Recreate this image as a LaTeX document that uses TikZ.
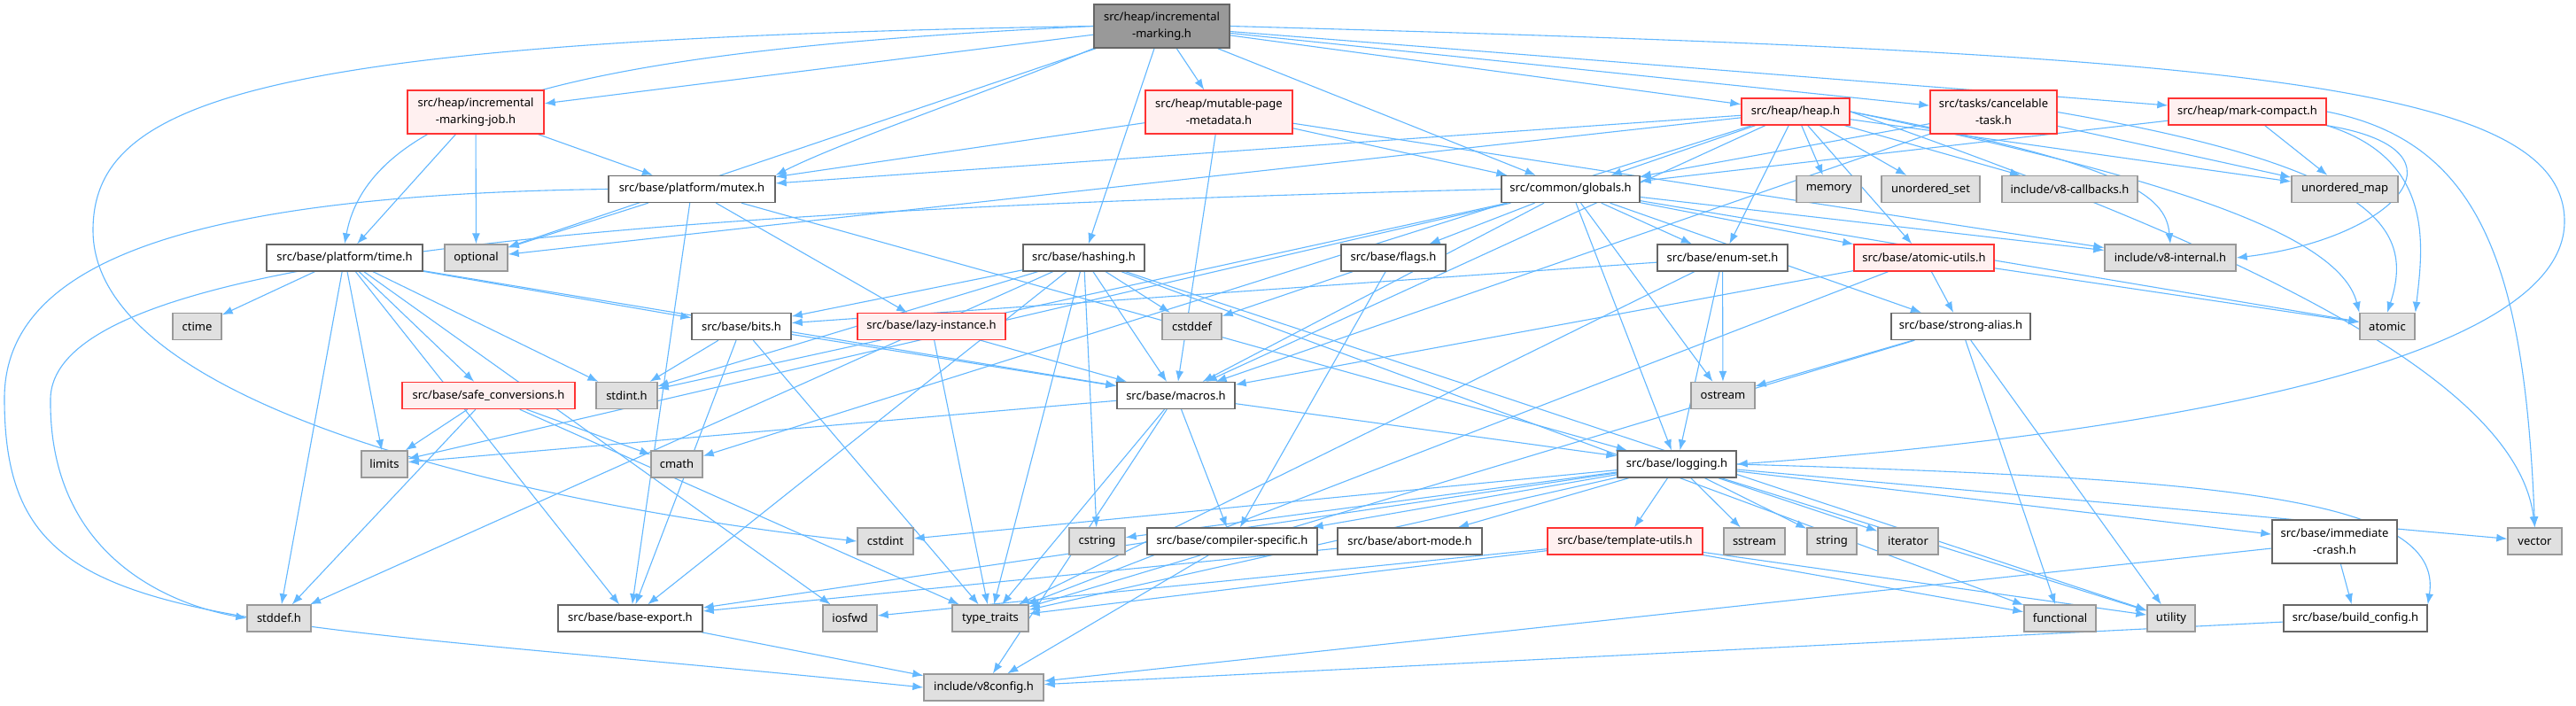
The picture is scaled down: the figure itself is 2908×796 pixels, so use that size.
\documentclass[tikz,border=0pt]{standalone}
\usepackage{fontspec}
\setmainfont{Noto Sans}
\usetikzlibrary{arrows.meta}
\definecolor{edgeblue}{HTML}{63B8FF}
\definecolor{boxline}{HTML}{666666}
\definecolor{sysline}{HTML}{999999}
\definecolor{sysfill}{HTML}{E0E0E0}
\definecolor{redline}{HTML}{FF3333}
\definecolor{redfill}{HTML}{FFF0F0}
\definecolor{rootfill}{HTML}{999999}
\pgfdeclarelayer{paper}
\pgfdeclarelayer{wires}
\pgfsetlayers{paper,wires,main}
\tikzset{
  hdr/.style={rectangle,draw=boxline,fill=white,line width=1.4pt,inner sep=0pt,minimum height=30pt,align=center,font=\fontsize{13}{19}\selectfont},
  syshdr/.style={hdr,draw=sysline,fill=sysfill},
  redhdr/.style={hdr,draw=redline,fill=redfill},
  roothdr/.style={hdr,fill=rootfill},
  twoline/.style={minimum height=49pt},
  dep/.style={-{Latex[length=12pt,width=9pt]},line width=1.1pt,edgeblue}
}

\begin{document}
\begin{tikzpicture}[x=1pt,y=-1pt]
  \begin{pgfonlayer}{paper}
    \fill[white] (0,0) rectangle (2908,796);
  \end{pgfonlayer}
  \useasboundingbox (0,0) rectangle (2908,796);
  % row 0 / 1
  \node[roothdr,twoline,minimum width=153pt] (main) at (1311.5,29.5) {src/heap/incremental\\-marking.h};
  \node[redhdr,twoline,minimum width=154pt] (job) at (537,126.5) {src/heap/incremental\\-marking-job.h};
  \node[redhdr,twoline,minimum width=166pt] (mpm) at (1376,126.5) {src/heap/mutable-page\\-metadata.h};
  \node[redhdr,minimum width=122pt] (heap) at (2027,126) {src/heap/heap.h};
  \node[redhdr,twoline,minimum width=143pt] (cancel) at (2250.5,126.5) {src/tasks/cancelable\\-task.h};
  \node[redhdr,minimum width=178pt] (mc) at (2537,126) {src/heap/mark-compact.h};
  % row 2
  \node[hdr,minimum width=188pt] (mutex) at (781,213.5) {src/base/platform/mutex.h};
  \node[hdr,minimum width=156pt] (globals) at (1773,213.5) {src/common/globals.h};
  \node[syshdr,minimum width=73pt] (memory) at (2064.5,213.5) {memory};
  \node[syshdr,minimum width=111pt] (uset) at (2179.5,213.5) {unordered\_set};
  \node[syshdr,minimum width=153pt] (v8cb) at (2336.5,213.5) {include/v8-callbacks.h};
  \node[syshdr,minimum width=120pt] (umap) at (2647,213.5) {unordered\_map};
  % row 3
  \node[hdr,minimum width=176pt] (time) at (389,291) {src/base/platform/time.h};
  \node[syshdr,minimum width=71pt] (optional) at (537.5,291) {optional};
  \node[hdr,minimum width=137pt] (hashing) at (1223.5,291) {src/base/hashing.h};
  \node[hdr,minimum width=118pt] (flags) at (1573,291) {src/base/flags.h};
  \node[hdr,minimum width=147pt] (enumset) at (1944.5,291) {src/base/enum-set.h};
  \node[redhdr,minimum width=158pt] (atomicutils) at (2172,291) {src/base/atomic-utils.h};
  \node[syshdr,minimum width=148pt] (v8internal) at (2450,291) {include/v8-internal.h};
  % row 4
  \node[syshdr,minimum width=55pt] (ctime) at (222.5,368.5) {ctime};
  \node[hdr,minimum width=112pt] (bits) at (837,368.5) {src/base/bits.h};
  \node[redhdr,minimum width=167pt] (lazy) at (1051.5,368.5) {src/base/lazy-instance.h};
  \node[syshdr,minimum width=67pt] (cstddef) at (1345.5,368.5) {cstddef};
  \node[hdr,minimum width=157pt] (strongalias) at (2213.5,368.5) {src/base/strong-alias.h};
  \node[syshdr,minimum width=62pt] (atomic) at (2695,368.5) {atomic};
  % row 5
  \node[redhdr,minimum width=195pt] (safeconv) at (551.5,446.5) {src/base/safe\_conversions.h};
  \node[syshdr,minimum width=69pt] (stdint) at (707.5,446.5) {stdint.h};
  \node[hdr,minimum width=133pt] (macros) at (1327.5,446.5) {src/base/macros.h};
  \node[syshdr,minimum width=72pt] (ostream) at (1945,446.5) {ostream};
  % row 6
  \node[syshdr,minimum width=52pt] (limits) at (434,524) {limits};
  \node[syshdr,minimum width=58pt] (cmath) at (764,524) {cmath};
  \node[hdr,minimum width=134pt] (logging) at (1893,524) {src/base/logging.h};
  % row 7
  \node[syshdr,minimum width=63pt] (cstdint) at (999.5,611) {cstdint};
  \node[syshdr,minimum width=63pt] (cstring) at (1238.5,611) {cstring};
  \node[hdr,minimum width=192pt] (compspec) at (1391,611) {src/base/compiler-specific.h};
  \node[hdr,minimum width=163pt] (abortmode) at (1591.5,611) {src/base/abort-mode.h};
  \node[redhdr,minimum width=175pt] (templ) at (1834.5,611) {src/base/template-utils.h};
  \node[syshdr,minimum width=69pt] (sstream) at (1980.5,611) {sstream};
  \node[syshdr,minimum width=56pt] (string) at (2068,611) {string};
  \node[syshdr,minimum width=68pt] (iterator) at (2154,611) {iterator};
  \node[hdr,twoline,minimum width=141pt] (immcrash) at (2635.5,611.5) {src/base/immediate\\-crash.h};
  \node[syshdr,minimum width=61pt] (vector) at (2861.5,611) {vector};
  % row 8 / 9
  \node[syshdr,minimum width=72pt] (stddef) at (315,698) {stddef.h};
  \node[hdr,minimum width=163pt] (baseexport) at (711.5,698) {src/base/base-export.h};
  \node[syshdr,minimum width=61pt] (iosfwd) at (959.5,698) {iosfwd};
  \node[syshdr,minimum width=86pt] (typetraits) at (1118,698) {type\_traits};
  \node[syshdr,minimum width=81pt] (functional) at (2325.5,698) {functional};
  \node[syshdr,minimum width=54pt] (utility) at (2451,698) {utility};
  \node[hdr,minimum width=162pt] (buildconfig) at (2659,698) {src/base/build\_config.h};
  \node[syshdr,minimum width=135pt] (v8config) at (1110.5,776) {include/v8config.h};

  \begin{pgfonlayer}{wires}
  % includes of the root file
  \foreach \t in {job,mpm,heap,cancel,mc,globals,hashing,optional}
    \draw[dep] (main) -- (\t);
  \draw[dep] (main.south west) .. controls (1100,110) and (950,160) .. (mutex.north east);
  \draw[dep] (main.west) .. controls (700,55) and (420,110) .. (time.north);
  \draw[dep] (main.west) .. controls (300,45) and (105,110) .. (105,260) .. controls (105,460) and (600,570) .. (cstdint.west);
  \draw[dep] (main.east) .. controls (2500,60) and (2895,90) .. (2895,250) .. controls (2895,430) and (2300,500) .. (logging.east);
  % heap level
  \foreach \t in {time,optional,mutex}
    \draw[dep] (job) -- (\t);
  \foreach \t in {mutex,globals,macros,v8internal}
    \draw[dep] (mpm) -- (\t);
  \foreach \t in {memory,uset,v8cb,umap,atomicutils,enumset,globals,mutex,optional,cmath,macros}
    \draw[dep] (heap) -- (\t);
  \draw[dep] (heap.east) .. controls (2400,185) and (2445,220) .. (v8internal.north);
  \draw[dep] (heap.east) .. controls (2420,195) and (2640,260) .. (atomic.north west);
  \draw[dep] (heap.east) .. controls (2500,270) and (2840,420) .. (vector.north);
  \foreach \t in {umap,globals,macros}
    \draw[dep] (cancel) -- (\t);
  \draw[dep] (cancel.east) .. controls (2690,190) and (2725,260) .. (atomic.north);
  \foreach \t in {globals,umap}
    \draw[dep] (mc) -- (\t);
  \draw[dep] (mc.south east) .. controls (2800,170) and (2700,270) .. (v8internal.east);
  \draw[dep] (mc.south east) .. controls (2750,180) and (2735,280) .. (atomic.north east);
  \draw[dep] (mc.east) .. controls (2800,160) and (2850,300) .. (vector.north);
  % base level
  \foreach \t in {optional,baseexport,lazy,logging}
    \draw[dep] (mutex) -- (\t);
  \draw[dep] (mutex.west) .. controls (200,220) and (5,300) .. (5,450) .. controls (5,720) and (200,690) .. (v8config.west);
  \foreach \t in {flags,enumset,ostream,logging,macros,atomicutils,strongalias,v8internal,stdint,limits,atomic}
    \draw[dep] (globals) -- (\t);
  \draw[dep] (globals.west) .. controls (600,240) and (60,300) .. (57,450) .. controls (55,620) and (180,680) .. (stddef.west);
  \foreach \t in {ctime,safeconv,stdint,limits,bits,macros,baseexport,iosfwd,stddef}
    \draw[dep] (time) -- (\t);
  \foreach \t in {stddef,stdint,cstddef,cstring,functional,typetraits,utility,baseexport,bits,macros}
    \draw[dep] (hashing) -- (\t);
  \foreach \t in {cstddef,compspec}
    \draw[dep] (flags) -- (\t);
  \foreach \t in {bits,ostream,logging,typetraits}
    \draw[dep] (enumset) -- (\t);
  \foreach \t in {strongalias,atomic,macros,typetraits}
    \draw[dep] (atomicutils) -- (\t);
  \foreach \t in {stdint,typetraits,baseexport,macros}
    \draw[dep] (bits) -- (\t);
  \foreach \t in {macros,typetraits}
    \draw[dep] (lazy) -- (\t);
  \foreach \t in {ostream,functional,utility,typetraits}
    \draw[dep] (strongalias) -- (\t);
  \foreach \t in {limits,stddef,cmath,typetraits}
    \draw[dep] (safeconv) -- (\t);
  \foreach \t in {limits,typetraits,v8config,compspec,logging}
    \draw[dep] (macros) -- (\t);
  \foreach \t in {cstdint,cstring,compspec,abortmode,templ,sstream,string,iterator,immcrash,vector,utility,typetraits,baseexport}
    \draw[dep] (logging) -- (\t);
  \draw[dep] (logging.east) .. controls (2500,540) and (2760,560) .. (buildconfig.north east);
  \foreach \t in {functional,utility,typetraits,iosfwd}
    \draw[dep] (templ) -- (\t);
  \foreach \t in {buildconfig,v8config}
    \draw[dep] (immcrash) -- (\t);
  \draw[dep] (compspec) -- (v8config);
  \draw[dep] (abortmode) -- (baseexport);
  \draw[dep] (buildconfig) -- (v8config);
  \draw[dep] (baseexport) -- (v8config);
  \end{pgfonlayer}
\end{tikzpicture}
\end{document}
